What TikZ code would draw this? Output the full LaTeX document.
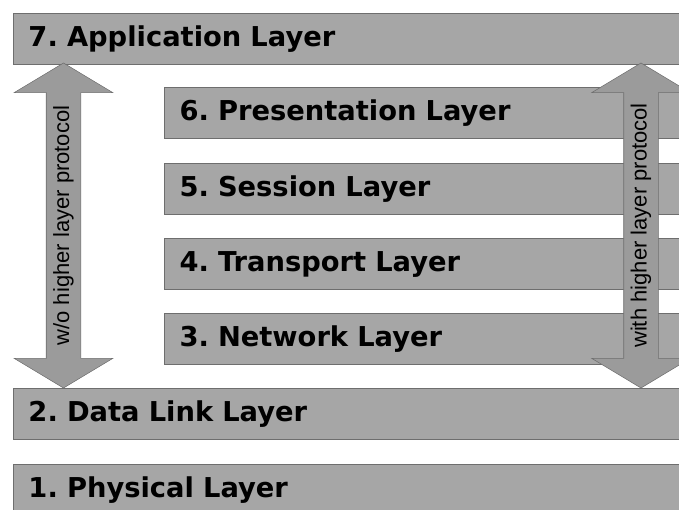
\documentclass[tikz,border=0pt]{standalone}
\usepackage{fontspec}
\setmainfont{DejaVu Sans}
\newfontfamily\arrowfont{Liberation Sans}
\usetikzlibrary{shapes.arrows}
\definecolor{layergray}{RGB}{166,166,166}
\definecolor{edgegray}{RGB}{110,110,110}
\definecolor{arrowgray}{RGB}{155,155,155}
\frenchspacing

\begin{document}
\begin{tikzpicture}[x=0.75pt,y=-0.75pt,
	layer/.style={draw=edgegray,line width=0.75pt,fill=layergray,anchor=north west,
		minimum height=38.25pt,inner xsep=11.25pt,align=left,
		font=\fontsize{20.5}{24}\selectfont\bfseries},
	wide/.style={layer,text width=485.25pt},
	narrow/.style={layer,text width=372pt},
	updown/.style={double arrow,rotate=90,fill=arrowgray,draw=edgegray,line width=0.4pt,
		double arrow head extend=24pt,double arrow tip angle=118,
		minimum height=243.75pt,inner xsep=0pt,inner ysep=5pt,
		text height=12pt,text depth=3.5pt,font=\arrowfont\fontsize{16.5}{18}\selectfont}]
	\path[use as bounding box,clip] (0,0) rectangle (679,510);
	\node[wide] (app) at (13,13) {7. Application Layer};
	\node[narrow] (pres) at (164,87) {6. Presentation Layer};
	\node[narrow] (sess) at (164,163) {5. Session Layer};
	\node[narrow] (trans) at (164,238) {4. Transport Layer};
	\node[narrow] (net) at (164,313) {3. Network Layer};
	\node[wide] (link) at (13,388) {2. Data Link Layer};
	\node[wide] (phys) at (13,464) {1. Physical Layer};
	\node[updown] (without) at (63.5,225.5) {w/o higher layer protocol};
	\node[updown] (with) at (641,225.5) {with higher layer protocol};
\end{tikzpicture}
\end{document}
